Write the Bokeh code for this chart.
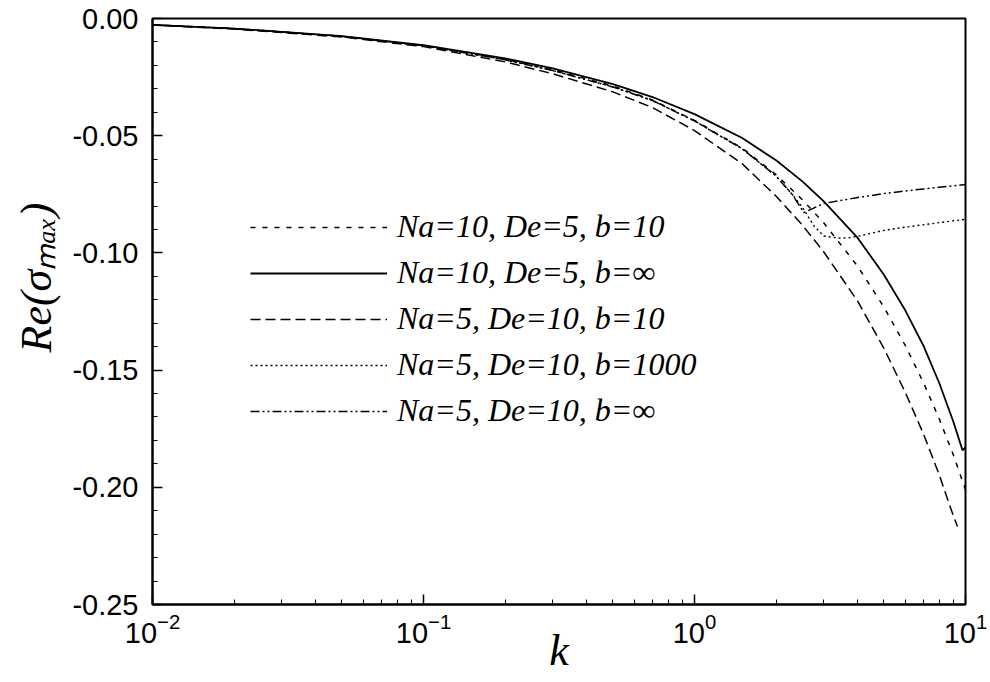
from bokeh.plotting import figure
from bokeh.models import (Legend, LegendItem, Title, SingleIntervalTicker,
                          NumeralTickFormatter, LogTicker, Range1d)
from bokeh.embed import file_html
from bokeh.resources import INLINE

# ---- data ----
# Na=10, De=5, b=10  (short dashes)
k_a = [0.01, 0.02, 0.05, 0.1, 0.2, 0.3, 0.5, 0.7, 1.0, 1.5, 2.0, 2.5, 3.0, 4.0, 5.0, 6.0, 7.0, 8.0, 9.0, 10.0]
re_a = [-0.0027, -0.0043, -0.0076, -0.0116, -0.0174, -0.0219, -0.0288, -0.0348, -0.0435, -0.0553,
        -0.0666, -0.0773, -0.0872, -0.1057, -0.1231, -0.1396, -0.1554, -0.1708, -0.1859, -0.2010]

# Na=10, De=5, b=inf  (solid)
k_b = [0.01, 0.02, 0.05, 0.1, 0.2, 0.3, 0.5, 0.7, 1.0, 1.5, 2.0, 2.5, 3.0, 4.0, 5.0, 6.0, 7.0, 8.0, 9.0, 9.75, 10.0]
re_b = [-0.0027, -0.0043, -0.0075, -0.0114, -0.0170, -0.0213, -0.0280, -0.0335, -0.0408, -0.0510,
        -0.0605, -0.0695, -0.0780, -0.0936, -0.1093, -0.1246, -0.1397, -0.1555, -0.1717, -0.1842, -0.1830]

# Na=5, De=10, b=10  (long dashes)
k_c = [0.01, 0.02, 0.05, 0.1, 0.2, 0.3, 0.5, 0.7, 1.0, 1.5, 2.0, 2.5, 3.0, 4.0, 5.0, 6.0, 7.0, 8.0, 9.0, 9.34]
re_c = [-0.0028, -0.0045, -0.0079, -0.0120, -0.0185, -0.0236, -0.0313, -0.0380, -0.0478, -0.0620,
        -0.0758, -0.0881, -0.0996, -0.1206, -0.1407, -0.1596, -0.1773, -0.1947, -0.2119, -0.2167]

# Na=5, De=10, b=1000  (dotted)
k_d = [0.01, 0.02, 0.05, 0.1, 0.2, 0.3, 0.5, 0.7, 1.0, 1.5, 2.0, 2.3, 2.5, 2.76, 3.0, 3.4, 3.75, 4.0,
       5.0, 6.0, 7.0, 8.0, 9.0, 10.0]
re_d = [-0.0027, -0.0043, -0.0076, -0.0116, -0.0176, -0.0222, -0.0292, -0.0350, -0.0437, -0.0556,
        -0.0672, -0.0752, -0.0805, -0.0885, -0.0928, -0.0937, -0.0935, -0.0929,
        -0.0904, -0.0890, -0.0880, -0.0871, -0.0863, -0.0857]

# Na=5, De=10, b=inf  (dash-dot-dot)
k_e = [0.01, 0.02, 0.05, 0.1, 0.2, 0.3, 0.5, 0.7, 1.0, 1.5, 2.0, 2.3, 2.53, 3.0, 4.0, 5.0, 6.0,
       7.0, 8.0, 9.0, 10.0]
re_e = [-0.0027, -0.0043, -0.0076, -0.0116, -0.0176, -0.0222, -0.0292, -0.0350, -0.0437, -0.0556,
        -0.0672, -0.0752, -0.0828, -0.0789, -0.0764, -0.0747, -0.0736,
        -0.0727, -0.0720, -0.0714, -0.0708]

labels = ["Na=10, De=5, b=10", "Na=10, De=5, b=\u221e", "Na=5, De=10, b=10",
          "Na=5, De=10, b=1000", "Na=5, De=10, b=\u221e"]
x_title = "k"
y_title = "Re(\u03c3\u2098\u2090\u2093)"

# ---- figure ----
p = figure(width=990, height=682, x_axis_type="log",
           x_range=Range1d(0.01, 10), y_range=Range1d(-0.25, 0.0),
           output_backend="svg", toolbar_location=None,
           min_border_left=152, min_border_right=25, min_border_top=18, min_border_bottom=78)
p.grid.visible = False
p.outline_line_color = "black"
p.outline_line_width = 2
p.background_fill_color = "white"
p.border_fill_color = "white"

xa = p.xaxis[0]
ya = p.yaxis[0]
xa.ticker = LogTicker(num_minor_ticks=10)
ya.ticker = SingleIntervalTicker(interval=0.05, num_minor_ticks=5)
ya.formatter = NumeralTickFormatter(format="0.00")
for ax in (xa, ya):
    ax.axis_line_width = 2
    ax.axis_line_color = "black"
    ax.major_tick_in = 10
    ax.major_tick_out = 0
    ax.minor_tick_in = 5
    ax.minor_tick_out = 0
    ax.major_tick_line_width = 1.5
    ax.minor_tick_line_width = 1
    ax.major_tick_line_color = "black"
    ax.minor_tick_line_color = "black"
    ax.major_label_text_font = "Liberation Sans"
    ax.major_label_text_font_size = "29px"
    ax.major_label_text_color = "black"
ya.major_label_standoff = 14
xa.major_label_standoff = 8

xa.axis_label = x_title
xa.axis_label_text_font = "Liberation Serif"
xa.axis_label_text_font_style = "italic"
xa.axis_label_text_font_size = "44px"
xa.axis_label_text_color = "black"
xa.axis_label_standoff = -20

common = dict(line_color="black")
r_a = p.line(k_a, re_a, line_width=1.5, line_dash="5 7", **common)
r_b = p.line(k_b, re_b, line_width=1.8, **common)
r_c = p.line(k_c, re_c, line_width=1.5, line_dash="10 5", **common)
r_d = p.line(k_d, re_d, line_width=1.4, line_dash="2 3", **common)
r_e = p.line(k_e, re_e, line_width=1.5, line_dash="9 3 2 3 2 3", **common)

legend = Legend(items=[LegendItem(label=l, renderers=[r]) for l, r in
                       zip(labels, [r_a, r_b, r_c, r_d, r_e])],
                location=(98, 175), orientation="vertical",
                glyph_width=137, glyph_height=22, label_height=22, spacing=9,
                padding=0, margin=0, label_standoff=10,
                border_line_alpha=0, background_fill_alpha=0,
                label_text_font="Liberation Serif", label_text_font_style="italic",
                label_text_font_size="32px", label_text_color="black")
p.add_layout(legend)

yt = Title(text=y_title, align="left", offset=252, standoff=18,
           text_font="Liberation Serif", text_font_style="italic",
           text_font_size="44px", text_color="black")
p.add_layout(yt, "left")

open("out.html", "w").write(file_html(p, INLINE))
